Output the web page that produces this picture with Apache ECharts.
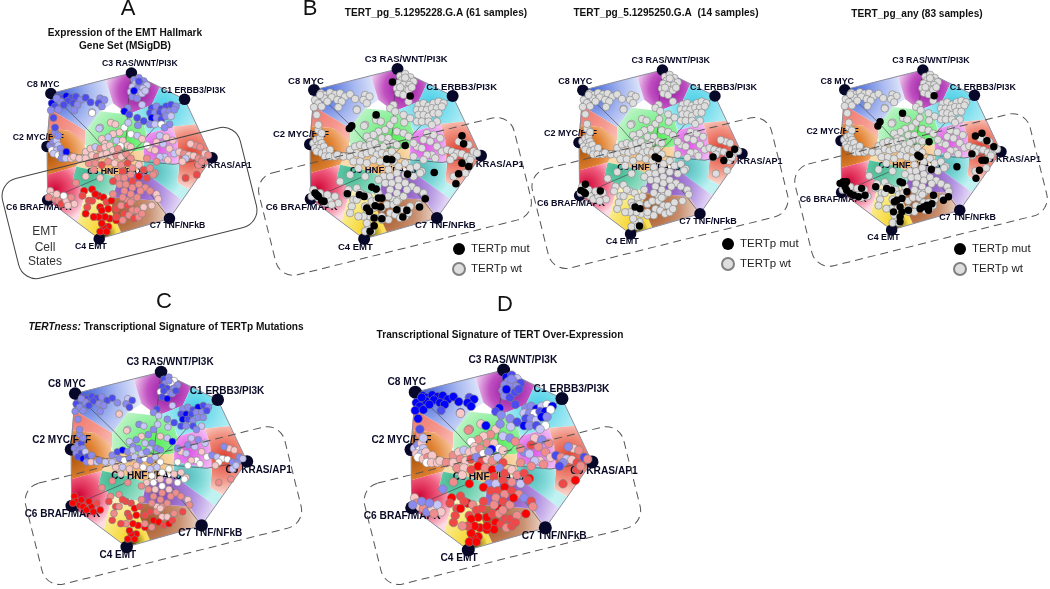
<!DOCTYPE html>
<html><head><meta charset="utf-8">
<script src="https://cdn.jsdelivr.net/npm/echarts@6/dist/echarts.min.js"></script>
<style>html,body{margin:0;padding:0;background:#fff}#c{width:1050px;height:589px}</style>
</head><body><div id="c"></div>
<script>
// ---------- sample positions (map units), grouped by region ----------
const c8Pts=[[213,280],[225,285],[240,278],[255,283],[270,280],[285,290],[300,283],[222,295],[245,292],[262,300],[275,305],[315,297],[345,285],[358,290],[340,300],[350,310],[195,300],[205,310],[192,322],[215,320],[265,322],[320,328],[210,285],[232,305]];
const c3Pts=[[450,228],[465,222],[480,232],[455,240],[470,240],[490,245],[445,250],[460,255],[478,255],[440,265],[455,270],[470,268],[445,280],[460,285],[475,270],[485,262],[465,233],[450,262]];
const c1Pts=[[505,315],[520,310],[535,318],[550,310],[565,305],[580,310],[500,330],[515,330],[530,330],[545,325],[560,325],[575,320],[505,345],[520,345],[535,350],[550,340],[565,340],[460,345],[480,355],[500,365],[515,365],[535,365],[560,365],[545,375],[475,305],[430,315],[420,325],[435,335],[462,368]];
const greenPts=[[345,375],[378,360],[392,365],[420,375],[432,360],[405,390],[385,395],[370,405],[350,410],[360,425],[395,415],[415,415],[440,395],[460,400],[475,410],[430,430],[408,432],[440,435],[320,330],[342,378]];
const c9Pts=[[530,400],[550,405],[570,415],[520,420],[540,425],[500,440],[490,430],[515,445],[560,440],[575,455],[590,450],[605,455],[620,460],[635,462],[650,470],[665,470],[610,470],[600,480],[650,490],[660,480],[640,430],[655,435],[670,455],[680,460],[625,425],[545,465],[555,475],[530,465],[645,520],[610,530]];
const c2Pts=[[190,430],[200,420],[210,415],[205,435],[215,430],[195,445],[210,445],[222,440],[200,455],[215,460],[228,455],[240,450],[225,470],[238,470],[205,390],[215,400],[200,345],[205,375],[255,470]];
const c5Pts=[[262,465],[280,470],[300,450],[315,440],[330,435],[345,440],[360,435],[375,430],[385,445],[400,440],[300,470],[320,460],[335,465],[350,460],[365,455],[380,465],[395,460],[410,465],[425,455],[440,470],[310,485],[330,485],[350,490],[370,480],[390,485],[410,490],[430,485],[445,500],[465,490],[480,505],[500,500],[520,480],[515,515],[490,470]];
const lowPts=[[415,510],[400,530],[420,530],[440,520],[385,540],[405,550],[425,550],[445,540],[465,525],[270,545],[300,525],[325,505],[345,530]];
const purplePts=[[445,560],[465,550],[485,560],[500,570],[520,580],[420,570],[440,580],[430,600],[415,590],[445,600],[460,590],[490,530],[510,520],[470,570]];
const c4Pts=[[295,570],[320,565],[340,585],[330,580],[355,590],[345,620],[365,605],[380,600],[370,625],[350,630],[375,655],[360,650],[395,660],[370,680],[355,680],[345,695],[365,695],[350,670],[340,650],[310,600],[305,620],[300,640],[325,650],[320,600],[290,585],[385,580]];
const c6Pts=[[190,570],[195,585],[205,595],[215,600],[225,610],[240,600],[255,590],[265,610],[210,580],[232,585],[185,590],[245,615]];
const brownPts=[[395,625],[410,615],[430,615],[445,630],[460,630],[480,620],[505,615],[420,640],[435,645],[450,655],[465,650],[415,660],[395,650],[440,605],[475,640],[525,595]];

// ---------- colour levels read per panel, one letter per sample ----------
const levelA={c8:"MMBMMLMLMMLMLLMLBMLLLLLM",c3:"LLLPLPPLPPWPLLPPMB",c1:"MLMMMLMLMLLLBLMLPMMLPWLLPLBML",green:"PKKWPKKPKKPKWPKKWKWP",c9:"PKKKPKWKKPKSKKSSPKSSSSKSKPKPTT",c2:"LLPLPWPLPWLBLPLLMMK",c5:"KKKKPSKKKSKKSKKKSKSSSSTSKSTSKTSSSS",low:"TSSSTSSTRSKSK",purple:"SSSSKSSSSSSTSS",c4:"RRRRRRTRRRRRRRRRRRRTTRRTTS",c6:"KKSSTKSKKWSK",brown:"TSTSSKKTSTSSTSSK"};
const levelC={c8:"MMMMLMMLMLLLPMLMMLLLLWLM",c3:"MLWLWLMMLWPLMBLMLM",c1:"LLMBMLMBMLLMBMLLLLMMLMPLPMLPP",green:"PLPLPLKLPLPLKPBLPLKK",c9:"PLPLPKLPKWLPWWLLWKPPKKLPLWWKSS",c2:"LLMLLLMPMBMLLKLLLLP",c5:"LPLMBLPLPLPLWLPLWLPWKPKKWPPWWKKWKW",low:"WKWKSSKWKSSKS",purple:"SKSSKSSKSSSWWS",c4:"SSTTTTRTRTRRRRRRRRSTSTTSTS",c6:"RRRRRRTRRRRR",brown:"TTSKKSTRRTRSSKTS"};
const levelD={c8:"BBBBBBBBBBBBMBBBBBBBMBBB",c3:"BMPLLMLLLLMLLMMMLB",c1:"LLBPWBPLWMBWMLPBLLMBLMWPMBMLP",green:"SKBKLSKSWKSKPLSWBKKS",c9:"KLSTSLSPSKMSPKTTLMTSKSMSLKSPRT",c2:"PLKWPKPKWKSKWKSPBMK",c5:"KSSKPKKSWLKSKTLTKSPTSKTRSRLTKSTSRS",low:"TLPTRTTRSLSKR",purple:"STSLTSTRSTSPTR",c4:"RTRTSTTTRRRRRRRRRRTTTTSRTT",c6:"KSKSLKPKLLLS",brown:"RTSTTSRRTSTRRSTS"};

const clusters={c8:c8Pts,c3:c3Pts,c1:c1Pts,green:greenPts,c9:c9Pts,c2:c2Pts,c5:c5Pts,low:lowPts,purple:purplePts,c4:c4Pts,c6:c6Pts,brown:brownPts};
const levelColors={B:"#0000ff",M:"#4b4bf0",L:"#8a8af0",P:"#c6c6f8",W:"#ffffff",K:"#f8c8c8",S:"#f08c8c",T:"#f04848",R:"#ff0000"};

// ---------- mutated samples for the three TERT panels ----------
const mut228=[[427,246],[480,288],[378,345],[305,378],[298,386],[465,437],[425,480],[410,478],[635,408],[640,432],[635,490],[655,500],[625,522],[617,552],[552,518],[472,523],[365,562],[378,568],[292,582],[328,585],[342,590],[385,595],[395,595],[375,618],[350,625],[358,635],[392,622],[372,655],[395,657],[372,678],[360,695],[440,630],[458,652],[470,632],[508,622],[525,597],[195,580],[205,590],[215,603],[200,585],[222,605]];
const mut250=[[200,563],[186,582],[195,587],[200,592],[247,584],[356,634],[372,639],[370,693],[419,478],[429,483],[601,478],[669,454],[653,470],[635,489]];
const mutAny=[[478,289],[377,345],[305,372],[298,386],[462,436],[426,479],[433,484],[631,409],[610,418],[647,433],[669,452],[599,475],[631,495],[642,495],[623,527],[612,553],[551,516],[469,525],[369,564],[377,567],[291,580],[326,585],[342,591],[391,596],[375,617],[359,623],[351,628],[369,644],[375,660],[369,676],[369,692],[348,660],[396,655],[444,644],[433,650],[455,639],[460,650],[471,634],[508,623],[524,612],[187,564],[198,564],[177,569],[193,580],[198,591],[209,601],[220,607],[246,585],[257,607],[236,612],[476,607],[460,655]];

// ---------- map nodes ----------
const nodeNames=["C3 RAS/WNT/PI3K","C1 ERBB3/PI3K","C8 MYC","C2 MYC/E2F","C9 KRAS/AP1","C6 BRAF/MAPK","C7 TNF/NFkB","C4 EMT"];
const nodeX=[442,607,192,180,692,182,560,342];
const nodeY=[207,288,270,433,468,598,655,718];
const nodeLabelX=[468,634,168,153,726,155,585,316];
const nodeLabelY=[178,262,243,405,493,622,678,742];
const hubLabel={name:"C5 HNF1/PAX8",x:399,y:512};
const outline=[[442,207],[607,288],[692,468],[560,655],[342,718],[182,598],[180,433],[192,270],[442,207]];
const treeEdges=[[[192,270],[310,385],[345,425],[420,445]],[[442,207],[432,300],[428,385],[420,445]],[[607,288],[540,345],[470,425],[425,470]],[[692,468],[575,488],[480,480],[425,470]],[[560,655],[470,540],[425,470]],[[182,598],[340,530],[425,470]],[[180,433],[280,460],[420,445]],[[420,445],[425,470]]];

// ---------- map regions ----------
const regionPolys=[
 [[192,270],[362,227],[385,300],[345,325],[300,385],[188,318]],
 [[188,318],[300,385],[300,430],[250,385],[182,378]],
 [[182,378],[250,385],[295,420],[300,450],[270,495],[180,520]],
 [[362,227],[442,207],[530,250],[505,305],[432,335],[385,300]],
 [[530,250],[607,288],[643,365],[570,372],[490,395],[480,365],[432,335],[505,305]],
 [[300,385],[345,325],[432,335],[480,365],[490,400],[480,445],[420,450],[300,440]],
 [[300,440],[420,450],[480,445],[480,500],[400,530],[340,510],[270,495],[295,450]],
 [[490,395],[570,372],[585,420],[590,490],[480,470],[480,445]],
 [[570,372],[643,365],[692,468],[622,567],[585,545],[590,490],[585,420]],
 [[480,470],[590,490],[585,545],[622,567],[600,598],[540,555],[480,510]],
 [[270,495],[340,510],[400,530],[385,585],[300,570],[260,535]],
 [[180,520],[270,495],[260,535],[300,570],[275,668],[182,598]],
 [[300,570],[385,585],[380,630],[410,698],[342,718],[275,668]],
 [[385,590],[525,600],[560,655],[410,698],[380,630]],
 [[400,530],[480,510],[540,555],[600,598],[560,655],[525,600],[385,590]],
 [[342,718],[360,670],[385,665],[395,700]]
];
const regionFoci=[[215,275,180],[200,340,130],[185,460,120],[460,265,105],[540,310,135],[420,420,130],[390,490,100],[520,440,75],[625,455,115],[510,510,95],[300,520,100],[205,565,105],[355,690,125],[400,640,175],[440,560,175],[358,708,42]];
const regionStops=[
 ["#3a5fd8","#a8b8f0","#eef2fd"],["#f07c72","#f59a90","#fac0b8"],["#b05a10","#e08030","#f8c8a0"],
 ["#9010a0","#c050c0","#f4dcf4"],["#48cfe8","#90e4f0","#c8f4f8"],["#50f050","#90f0a0","#c8f4d0"],
 ["#f4b060","#f6c88a","#f8dcb0"],["#e050e8","#e888ee","#f2b8f4"],["#e04030","#f09080","#fce4dc"],
 ["#50b8b8","#80d8d8","#c0f2f2"],["#40b890","#70d0b0","#a8e4d0"],["#d00838","#f06080","#fddce4"],
 ["#f8d020","#f8e878","#fbf2c8"],["#a85520","#c89070","#f8ece6"],["#8040b8","#b090e0","#f2ecfd"],
 ["rgba(20,20,0,.85)","rgba(60,50,0,.35)","rgba(60,50,0,0)"]
];

// ---------- panels ----------
const panels=[
 {id:"A",box:[47,73,165,166],font:8.7,dot:7.2,node:11.5,levels:levelA},
 {id:"B1",box:[310,69,171,170],font:9.5,dot:7.6,node:12,mut:mut228},
 {id:"B2",box:[579,70,163,164],font:9,dot:7.4,node:11.5,mut:mut250},
 {id:"B3",box:[841,70,160,160],font:8.9,dot:7.4,node:11.5,mut:mutAny},
 {id:"C",box:[71,372,176,175],font:10,dot:6.8,node:12.5,levels:levelC},
 {id:"D",box:[411,370,181,180],font:10.2,dot:8.6,node:13,levels:levelD}
];
const titleTexts=[
 {t:"Expression of the EMT Hallmark\nGene Set (MSigDB)",x:120,y:22},
 {t:"TERT_pg_5.1295228.G.A (61 samples)",x:431,y:2},
 {t:"TERT_pg_5.1295250.G.A  (14 samples)",x:661,y:2},
 {t:"TERT_pg_any (83 samples)",x:912,y:3},
 {t:"{i|TERTness:} Transcriptional Signature of TERTp Mutations",x:161,y:316},
 {t:"Transcriptional Signature of TERT Over-Expression",x:495,y:324}
];
const panelLetters=[["A",123,-7],["B",305,-7],["C",159,286],["D",500,289]];
const legendSpots=[[452,243],[721,238],[953,243]];
const stateBoxes=[
 {c:[129.5,203],w:245,h:102.6,dash:null,stroke:"#444"},
 {c:[395,196.4],w:263,h:105,dash:[8,5],stroke:"#555"},
 {c:[660,193],w:246.5,h:102,dash:[8,5],stroke:"#555"},
 {c:[921,190],w:242,h:104.8,dash:[8,5],stroke:"#555"},
 {c:[163.4,505.6],w:267,h:104,dash:[8,5],stroke:"#555"},
 {c:[502.4,505.6],w:267,h:104,dash:[8,5],stroke:"#555"}
];
const boxLines=[["EMT",45,232],["Cell",45,248],["States",45,262]];

const ink="#0a0a26", font="'Liberation Sans',Arial,sans-serif";
const grid=[],xAxis=[],yAxis=[],series=[];
panels.forEach((p,i)=>{
 grid.push({left:p.box[0],top:p.box[1],width:p.box[2],height:p.box[3],containLabel:false});
 xAxis.push({type:"value",gridIndex:i,min:180,max:692,show:false,splitLine:{show:false}});
 yAxis.push({type:"value",gridIndex:i,min:207,max:718,inverse:true,show:false,splitLine:{show:false}});
 const ax={xAxisIndex:i,yAxisIndex:i};
 series.push({type:"custom",...ax,z:1,silent:true,clip:false,coordinateSystem:"cartesian2d",
  data:regionPolys.map((_,k)=>[k]),
  renderItem(params,api){
   const k=api.value(0), f=regionFoci[k], s=regionStops[k];
   const pts=regionPolys[k].map(q=>api.coord(q));
   const c=api.coord([f[0],f[1]]);
   const r=f[2]*p.box[2]/512;
   return {type:"polygon",shape:{points:pts},style:{
     fill:new echarts.graphic.RadialGradient(c[0],c[1],r,[{offset:0,color:s[0]},{offset:.55,color:s[1]},{offset:1,color:s[2]}],true)}};
  }});
 series.push({type:"line",...ax,z:2,silent:true,showSymbol:false,clip:false,data:outline,lineStyle:{color:"#8d8d9c",width:1}});
 const tree=[];treeEdges.forEach(e=>{e.forEach(q=>tree.push(q));tree.push(["-","-"]);});
 series.push({type:"line",...ax,z:2,silent:true,showSymbol:false,clip:false,connectNulls:false,data:tree,lineStyle:{color:"#3c3c44",width:.6}});
 series.push({type:"scatter",...ax,z:3,silent:true,clip:false,symbolSize:1,itemStyle:{color:"transparent",opacity:1},
  data:nodeNames.map((n,k)=>({name:n,value:[nodeLabelX[k],nodeLabelY[k]]})).concat([{name:hubLabel.name,value:[hubLabel.x,hubLabel.y]}]),
  label:{show:true,position:"inside",formatter:"{b}",fontFamily:font,fontWeight:"bold",fontSize:p.font,color:ink}});
 series.push({type:"scatter",...ax,z:3,silent:true,clip:false,symbolSize:p.node,itemStyle:{color:"#07072a",opacity:1},
  data:nodeX.map((x,k)=>[x,nodeY[k]])});
 const samples=[];
 Object.keys(clusters).forEach(key=>{
  clusters[key].forEach((q,j)=>{
   if(p.levels){const str=p.levels[key];const l=str[j]||str[str.length-1];samples.push({value:q,itemStyle:{color:levelColors[l],opacity:1}});}
   else samples.push(q);
  });
 });
 const stroke={borderColor:"#808080",borderWidth:.6,opacity:1};
 if(p.levels){
  series.push({type:"scatter",...ax,z:4,silent:true,clip:false,symbolSize:p.dot,itemStyle:stroke,data:samples});
 }else{
  series.push({name:"TERTp wt",type:"scatter",...ax,z:4,silent:true,clip:false,symbolSize:p.dot,itemStyle:{color:"#dedede",...stroke},data:samples});
  series.push({name:"TERTp mut",type:"scatter",...ax,z:5,silent:true,clip:false,symbolSize:p.dot,itemStyle:{color:"#000000",opacity:1},data:p.mut});
 }
});

const title=panelLetters.map(l=>({text:l[0],left:l[1],top:l[2],textAlign:"center",textStyle:{fontFamily:font,fontWeight:"normal",fontSize:22,color:"#111"}}))
 .concat(titleTexts.map(t=>({text:t.t,left:t.x,top:t.y,textAlign:"center",textStyle:{fontFamily:font,fontWeight:"bold",fontSize:10.1,lineHeight:13,color:"#111",
   rich:{i:{fontFamily:font,fontWeight:"bold",fontStyle:"italic",fontSize:10.1,color:"#111"}}}})));
const legend=legendSpots.map(s=>({left:s[0],top:s[1],orient:"vertical",itemWidth:12,itemHeight:12,itemGap:7,selectedMode:false,padding:0,icon:"circle",
  data:["TERTp mut","TERTp wt"],textStyle:{fontFamily:font,fontSize:11.5,color:"#222",padding:[-2,0,0,1]}}));
const graphic=stateBoxes.map(b=>({type:"rect",x:b.c[0],y:b.c[1],rotation:14*Math.PI/180,z:10,silent:true,
   shape:{x:-b.w/2,y:-b.h/2,width:b.w,height:b.h,r:18},style:{fill:null,stroke:b.stroke,lineWidth:1,lineDash:b.dash||undefined}}))
 .concat(boxLines.map(l=>({type:"text",x:l[1],y:l[2],z:10,silent:true,style:{text:l[0],fontFamily:font,fontSize:12,fill:"#333",align:"center",verticalAlign:"middle"}})));

const chart=echarts.init(document.getElementById("c"),null,{renderer:"canvas"});
chart.setOption({animation:false,backgroundColor:"#fff",title,legend,grid,xAxis,yAxis,series,graphic});
</script></body></html>
